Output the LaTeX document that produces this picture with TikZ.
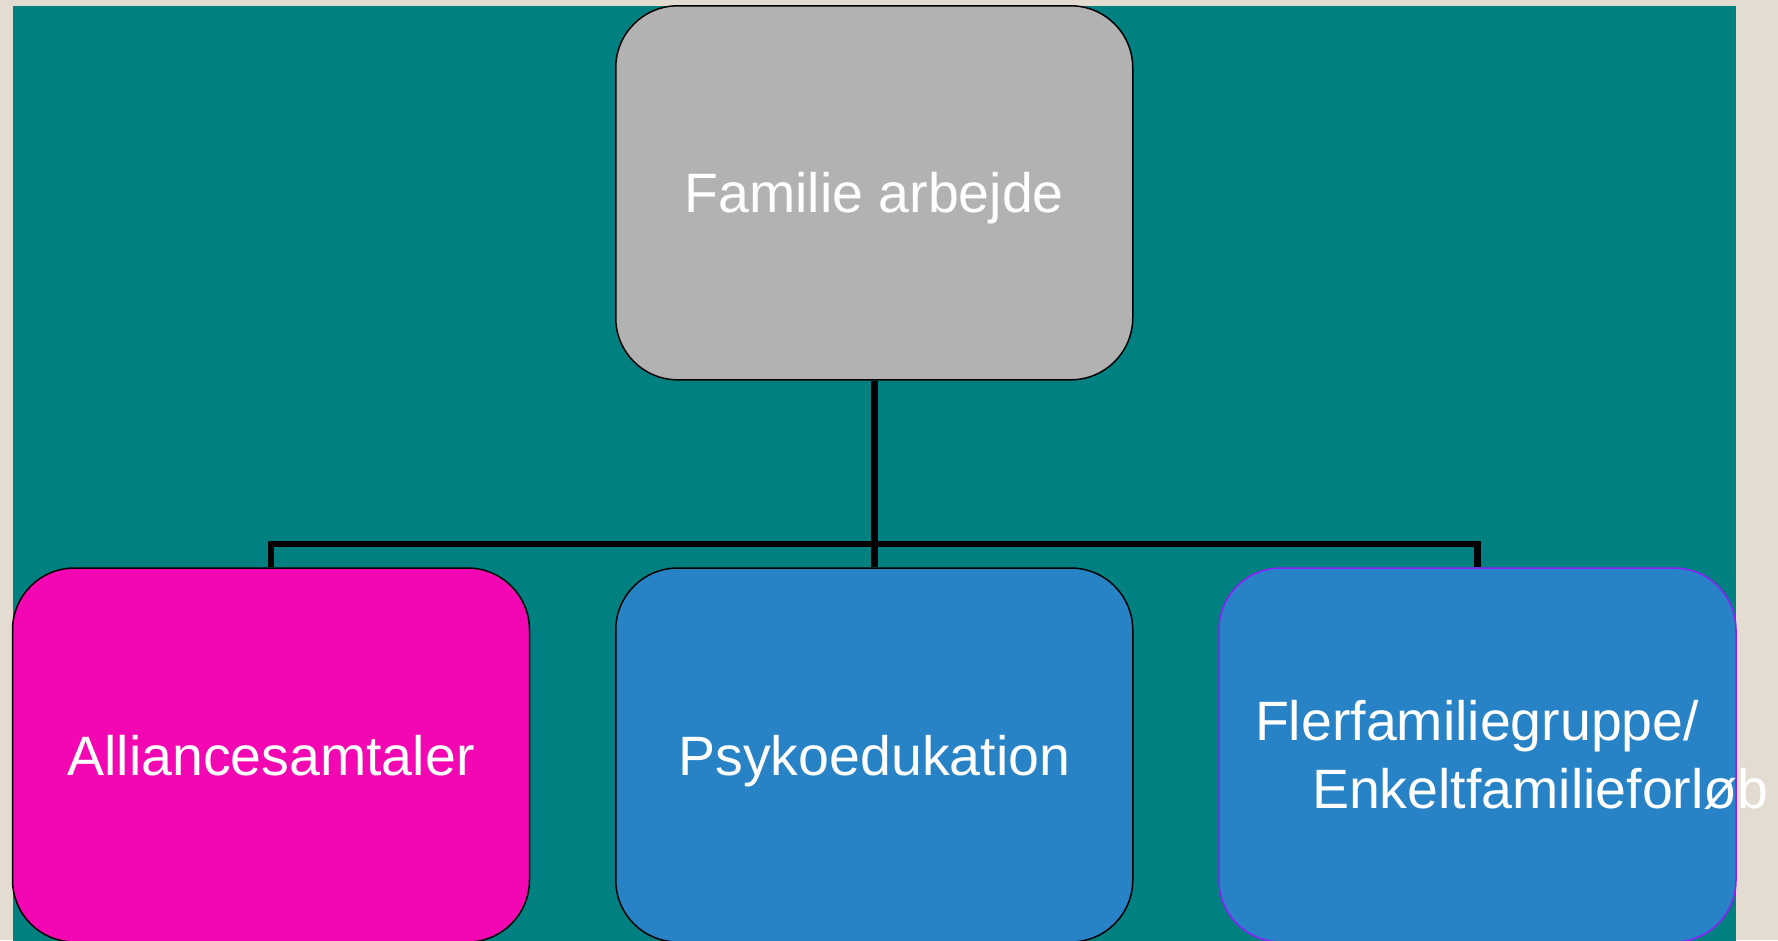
\documentclass[tikz,border=0pt]{standalone}
\usepackage{fontspec}
\setmainfont{Liberation Sans}
\definecolor{beigebg}{HTML}{E4DCD1}
\definecolor{tealbg}{HTML}{008080}
\definecolor{grayfill}{HTML}{B2B2B2}
\definecolor{pinkfill}{HTML}{F207B2}
\definecolor{bluefill}{HTML}{2782C6}
\definecolor{purpleedge}{HTML}{8F1DFF}
\tikzset{
  orgbox/.style={rounded corners=62pt, minimum width=517pt, minimum height=374pt,
    draw=black, line width=1.5pt, text=white, inner sep=0pt,
    font=\fontsize{55.5}{68}\selectfont},
  oneline/.style={text height=40pt, text depth=0pt},
  conn/.style={draw=black, line width=6.5pt}
}
\begin{document}
\begin{tikzpicture}[x=1pt,y=-1pt]
\clip (0,0) rectangle (1778,940);
\fill[beigebg] (0,0) rectangle (1778,940);
\fill[tealbg] (12.5,5.7) rectangle (1736,945);
\coordinate (bus) at (874.25,544);
\node[orgbox, oneline, fill=grayfill] (top) at (874.25,192.8) {Familie arbejde};
\node[orgbox, oneline, fill=pinkfill] (left) at (271,755) {Alliancesamtaler};
\node[orgbox, oneline, fill=bluefill] (mid) at (874.25,755) {Psykoedukation};
\node[orgbox, fill=bluefill, draw=purpleedge, text width=445pt, align=left] (right) at (1477.5,755)
  {\mbox{Flerfamiliegruppe/}\\\mbox{\hspace*{57pt}Enkeltfamilieforløb}};
\draw[conn] (top.south) -- (mid.north);
\draw[conn] (left.north) |- (bus) -| (right.north);
\end{tikzpicture}
\end{document}
